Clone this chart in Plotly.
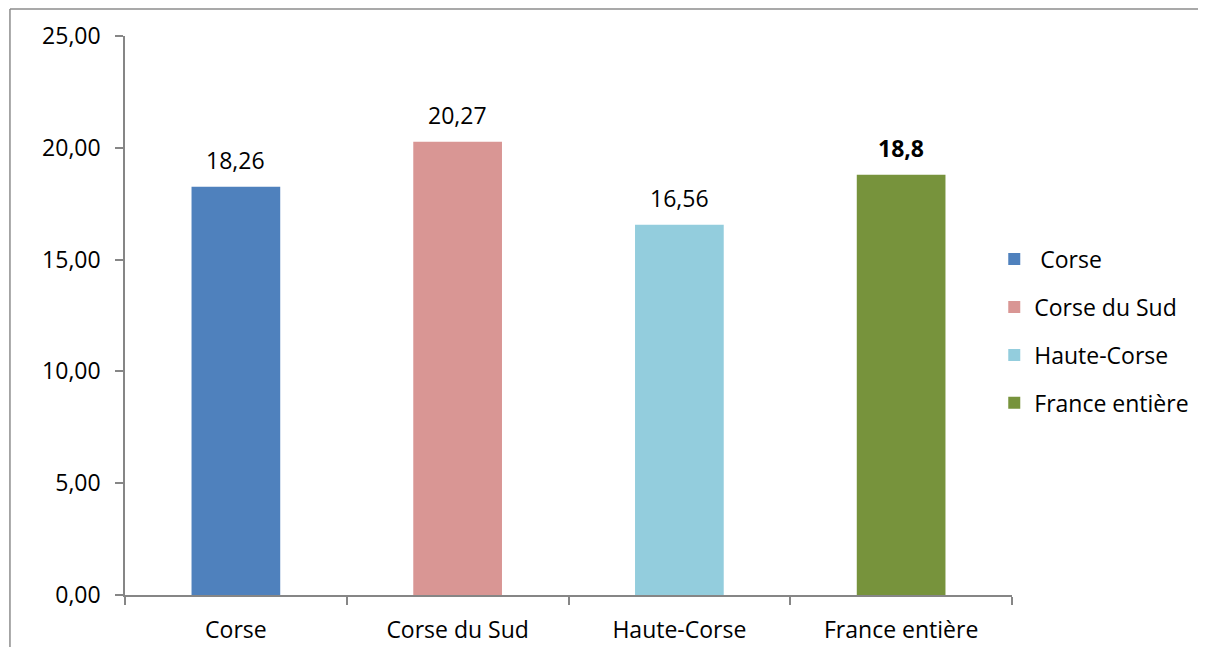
import plotly.graph_objects as go

categories = ["Corse", "Corse du Sud", "Haute-Corse", "France entière"]
values = [18.26, 20.27, 16.56, 18.8]
labels = ["18,26", "20,27", "16,56", "<b>18,8</b>"]
legend_names = [" Corse", "Corse du Sud", "Haute-Corse", "France entière"]
colors = ["#4F81BD", "#D99694", "#93CDDD", "#77933C"]
y_ticks = [0, 5, 10, 15, 20, 25]

FONT = "Open Sans"
FS = 23
fig = go.Figure()
for i, cat in enumerate(categories):
    fig.add_trace(go.Bar(
        x=[cat], y=[values[i]], name=legend_names[i],
        marker=dict(color=colors[i], line=dict(width=0)),
        width=0.4, legendgroup=str(i),
    ))
    fig.add_annotation(x=cat, y=values[i], text=labels[i], showarrow=False,
                       xref="x", yref="y", yanchor="middle", yshift=27,
                       font=dict(family=FONT, size=FS, color="black"))

border = dict(color="#8c8c8c", width=1.5)
fig.update_layout(
    width=1198, height=639,
    paper_bgcolor="white", plot_bgcolor="white",
    barmode="overlay",
    separators=", ",
    font=dict(family=FONT, size=FS, color="black"),
    margin=dict(l=117, r=194, t=28, b=52, autoexpand=False),
    showlegend=True,
    legend=dict(x=0.980, xanchor="left", y=0.472, yanchor="middle",
                tracegroupgap=15, font=dict(family=FONT, size=FS),
                itemwidth=30),
    xaxis=dict(categoryorder="array", categoryarray=categories,
               showline=True, linecolor="#868686", linewidth=1.5,
               ticks="outside", tickson="boundaries", ticklen=8,
               tickcolor="#868686", tickwidth=1.5, showgrid=False,
               range=[-0.5, 3.5], ticklabelstandoff=14),
    yaxis=dict(range=[0, 25], tickvals=y_ticks, tickformat=".2f",
               showline=True, linecolor="#868686", linewidth=1.5,
               ticks="outside", ticklen=8, tickcolor="#868686", tickwidth=1.5,
               showgrid=False, zeroline=False, ticklabelstandoff=10),
    shapes=[
        dict(type="line", xref="paper", yref="paper",
             x0=-0.1297, x1=1.5, y0=1.0483, y1=1.0483, line=border, layer="below"),
        dict(type="line", xref="paper", yref="paper",
             x0=-0.1297, x1=-0.1297, y0=-0.3, y1=1.0483, line=border, layer="below"),
    ],
)
fig.write_html("out.html")
